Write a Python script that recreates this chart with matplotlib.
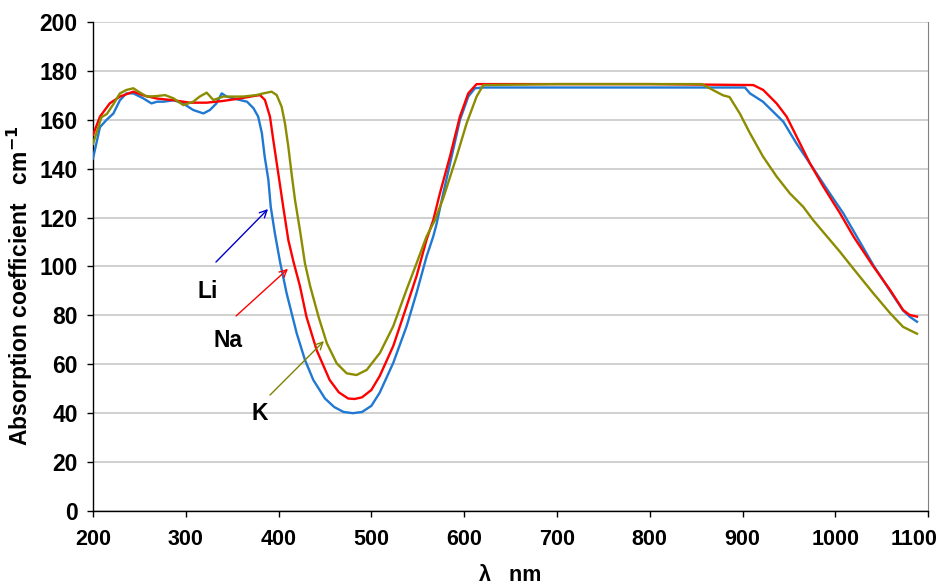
import matplotlib
matplotlib.use("Agg")
import matplotlib.pyplot as plt
from matplotlib.transforms import ScaledTranslation

plt.rcParams.update({
    "font.family": ["Liberation Sans", "DejaVu Sans"],
    "font.weight": "bold",
})

# Li
li_nm = [200, 204, 207.5, 214.7, 222, 229, 236, 243.5, 254, 263, 269, 276, 287, 297, 308, 319, 326,
         333, 338.7, 344, 355, 366, 373, 378, 382, 385, 389, 391.5, 396, 401.5, 408.7, 419.5, 428.4,
         437.4, 450, 460, 470, 480, 490, 500, 509, 523.6, 538, 548.7, 559.5, 566.7, 570, 577.5, 586.5,
         595.4, 604.4, 611.6, 620, 700, 800, 886, 902.6, 908, 922, 933, 944, 958, 976, 994, 1008.5,
         1025, 1041, 1059, 1073, 1080, 1088]
li_val = [144.2, 151, 157, 160, 162.6, 168, 170.8, 170.8, 168.8, 166.7, 167.4, 167.4, 168, 166.7, 164,
          162.6, 164, 166.7, 170.8, 169.5, 168.4, 167.4, 164.7, 161.3, 154.5, 145, 135.4, 124.5, 113.6,
          102, 89, 72.7, 61.8, 53.6, 46, 42.5, 40.5, 40, 40.5, 43, 48.4, 60.6, 75.6, 89.2, 104.1, 112.3,
          117, 130, 145, 159.9, 169.5, 172.9, 173.2, 173.2, 173.2, 173.2, 173.2, 170.8, 167.4, 163.3,
          159.2, 150.4, 140.2, 129.9, 121.8, 111, 100.5, 90, 82, 79.5, 77.4]

# Na
na_nm = [200, 207.5, 218, 229, 243.5, 254, 268.6, 286.6, 304.5, 322.5, 340, 358, 373, 380, 385.3, 390.7,
         394.3, 399.7, 405, 410.5, 416, 423, 430, 441, 455, 465, 475, 482, 490, 500, 509, 523.6, 538,
         548.7, 559.5, 566.7, 573.9, 584.7, 595.4, 604.4, 613.4, 700, 800, 911.6, 922.3, 936.7, 947.5,
         958.3, 972.6, 987, 1005, 1020, 1041, 1059, 1073, 1080, 1088]
na_val = [153.8, 161.3, 166.7, 169.5, 171.5, 170, 168.7, 168, 167, 167, 167.7, 168.7, 169.7, 170.1, 168.1,
          161.3, 151.7, 138, 124.4, 110.8, 102, 92, 79.5, 65.8, 53.6, 48.5, 46, 45.8, 46.5, 49.5, 55.2,
          67.5, 83.8, 96.1, 111, 119, 130, 145, 161.3, 170.8, 174.6, 174.6, 174.6, 174.2, 172.2, 166.7,
          161.3, 153.1, 142.2, 132.7, 121.8, 112, 100, 90.4, 82.2, 80.2, 79.5]

# K
k_nm = [200, 204, 209, 215, 222, 229, 236, 243.5, 249, 258, 268.6, 277.6, 286.6, 297.4, 308, 315, 322.5,
        329.7, 340.4, 351, 362, 376, 383.6, 392.5, 398, 403.3, 406.9, 410.5, 414, 417.7, 423, 428.4, 434,
        443, 452, 462.6, 473.4, 484, 495, 509.3, 523.6, 538, 548.7, 559.5, 568.5, 577.5, 591.9, 602.6,
        613.4, 620.6, 700, 800, 856, 868, 879, 886, 897, 908, 922, 936.7, 951, 965.4, 976, 1005, 1019,
        1041, 1059, 1073, 1088]
k_val = [150.2, 154.9, 161, 162.4, 166.4, 170.8, 172.2, 172.9, 171.5, 169.5, 169.7, 170.1, 168.8, 166,
         167.4, 169.5, 171.1, 168.1, 169.5, 169.5, 169.5, 170.1, 170.8, 171.5, 170.1, 165.3, 158.5, 149,
         138, 127.2, 114.9, 101.3, 92, 79.5, 68.6, 60.4, 56.3, 55.6, 57.7, 64.7, 75.6, 90.6, 101.3, 112.3,
         119, 128, 145, 158.5, 169.5, 174.2, 174.6, 174.6, 174.6, 172.2, 170, 169.3, 162.6, 154.5, 145,
         136.8, 129.9, 124.4, 119, 106, 99.3, 89, 80.9, 75.3, 72.5]

series = [("Li", li_nm, li_val, "#1f78d2"),
          ("Na", na_nm, na_val, "#ff0000"),
          ("K", k_nm, k_val, "#8c8c00")]

# label text position, arrow start, arrow tip, arrow colour
labels = {
    "Li": ((324, 89.6), (330.4, 101), (390.7, 124.3), "#0000cc"),
    "Na": ((345.5, 69.9), (352, 79), (412.3, 99.8), "#ff0000"),
    "K": ((380, 40), (388.6, 46.6), (451, 70.3), "#808000"),
}

FS = 16.5

fig = plt.figure(figsize=(9.49, 5.88), dpi=100)
ax = fig.add_axes([0.098, 0.131, 0.88, 0.8316])

for name, xs, ys, c in series:
    ax.plot(xs, ys, color=c, linewidth=1.7, zorder=3)

for name, (txt, start, tip, c) in labels.items():
    ax.text(txt[0], txt[1], name, fontsize=FS, fontweight="bold", ha="center", va="center")
    ax.annotate("", xy=tip, xytext=start,
                arrowprops=dict(arrowstyle="->", color=c, lw=1.0, mutation_scale=13), zorder=4)

ax.set_xlim(200, 1100)
ax.set_ylim(0, 200)
ax.set_xticks(range(200, 1101, 100))
ax.set_yticks(range(0, 201, 20))
ax.yaxis.grid(True, color="#d0d0d0", linewidth=1.4)
ax.set_axisbelow(True)

ax.tick_params(axis="both", direction="out", length=4, width=1)
ax.tick_params(axis="x", pad=9, labelsize=15.5)
ax.tick_params(axis="y", pad=7, labelsize=FS)
for lab in ax.get_xticklabels() + ax.get_yticklabels():
    lab.set_fontweight("bold")
# last x label pulled inside the figure, as in the original
last = ax.get_xticklabels()[-1]
last.set_transform(last.get_transform() + ScaledTranslation(-14 / 100, 0, fig.dpi_scale_trans))

ax.spines["top"].set_visible(False)
ax.spines["right"].set_color("#808080")
ax.spines["left"].set_linewidth(1.0)
ax.spines["bottom"].set_linewidth(1.0)

ax.set_xlabel("λ   nm", fontsize=15.5, fontweight="bold")
ax.xaxis.label.set_va("center")
ax.xaxis.set_label_coords(0.5, -0.132)
ax.set_ylabel("Absorption coefficient   cm$^\\mathbf{-1}$", fontsize=FS, fontweight="bold")
ax.yaxis.set_label_coords(-0.07, 0.46)

fig.savefig("out.png", dpi=100)
